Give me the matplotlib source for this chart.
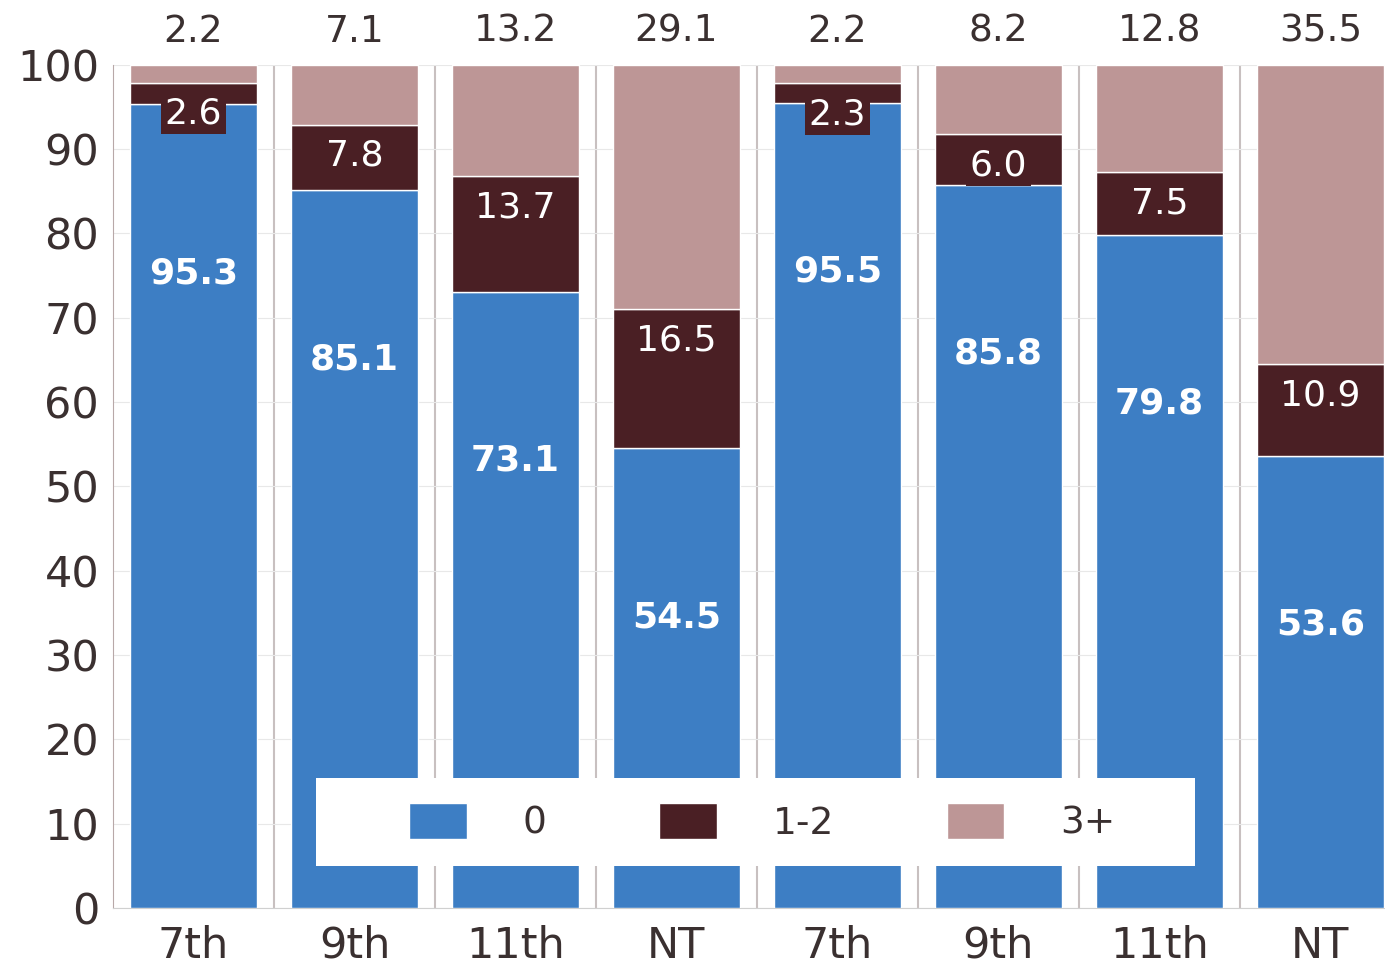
import numpy as np
import matplotlib.pyplot as plt
from matplotlib.patches import Rectangle

plt.rcParams['font.family'] = ['DejaVu Sans']

# Data
categories = ['7th', '9th', '11th', 'NT', '7th', '9th', '11th', 'NT']
zero = [95.3, 85.1, 73.1, 54.5, 95.5, 85.8, 79.8, 53.6]
one_two = [2.6, 7.8, 13.7, 16.5, 2.3, 6.0, 7.5, 10.9]
three_plus = [2.2, 7.1, 13.2, 29.1, 2.2, 8.2, 12.8, 35.5]

c_blue = '#3d7ec4'
c_dark = '#4a1f24'
c_light = '#bd9696'
c_text = '#3a3030'

x = np.arange(len(categories))
zero = np.array(zero)
one_two = np.array(one_two)
three_plus = np.array(three_plus)

fig = plt.figure(figsize=(13.85, 9.68), dpi=100)
ax = fig.add_axes([0.0816, 0.062, 0.924, 0.871])

w = 0.79
ax.bar(x, zero, w, color=c_blue, edgecolor='white', linewidth=1, label='0', zorder=3)
ax.bar(x, one_two, w, bottom=zero, color=c_dark, edgecolor='white', linewidth=1, label='1-2', zorder=3)
ax.bar(x, 100 - zero - one_two, w, bottom=zero + one_two, color=c_light,
       edgecolor='white', linewidth=1, label='3+', zorder=3)

# value labels
for i in range(len(x)):
    ax.text(x[i], zero[i] - 20, f'{zero[i]:.1f}', ha='center', va='center',
            color='white', fontsize=26, fontweight='bold', zorder=5)
    top = zero[i] + one_two[i]
    ax.text(x[i], top - 3.7, f'{one_two[i]:.1f}', ha='center', va='center',
            color='white', fontsize=26, zorder=5,
            bbox=dict(boxstyle='square,pad=0.1', facecolor=c_dark, edgecolor='none'))
    ax.text(x[i], 103.9, f'{three_plus[i]:.1f}', ha='center', va='center',
            color=c_text, fontsize=27, zorder=5, clip_on=False)

ax.set_xlim(-0.5, 7.45)
ax.set_ylim(0, 100)
ax.set_yticks(np.arange(0, 101, 10))
ax.set_xticks(x)
ax.set_xticklabels(categories)
ax.tick_params(axis='both', length=0, labelsize=31, colors=c_text)
ax.tick_params(axis='y', pad=10)
ax.tick_params(axis='x', pad=12)

ax.grid(axis='y', color='#e8e8e8', linewidth=0.8, zorder=0)
for s in np.arange(0.5, 7.5, 1):
    ax.axvline(s, color='#c8c0c0', linewidth=1.5, zorder=1)

for sp in ['top', 'right']:
    ax.spines[sp].set_visible(False)
ax.spines['left'].set_color('#b8a8a8')
ax.spines['bottom'].set_color('#d0d0d0')

# legend with white box behind it
fig.patches.append(Rectangle((0.228, 0.105), 0.635, 0.091, transform=fig.transFigure,
                             facecolor='white', edgecolor='none', zorder=10))
leg = fig.legend(loc='center', bbox_to_anchor=(0.5505, 0.1505), ncol=3, fontsize=27,
                 frameon=False, handlelength=1.53, handleheight=1.1,
                 handletextpad=1.5, columnspacing=3.0)
leg.set_zorder(11)
for t in leg.get_texts():
    t.set_color(c_text)

fig.savefig('out.png', dpi=100)
